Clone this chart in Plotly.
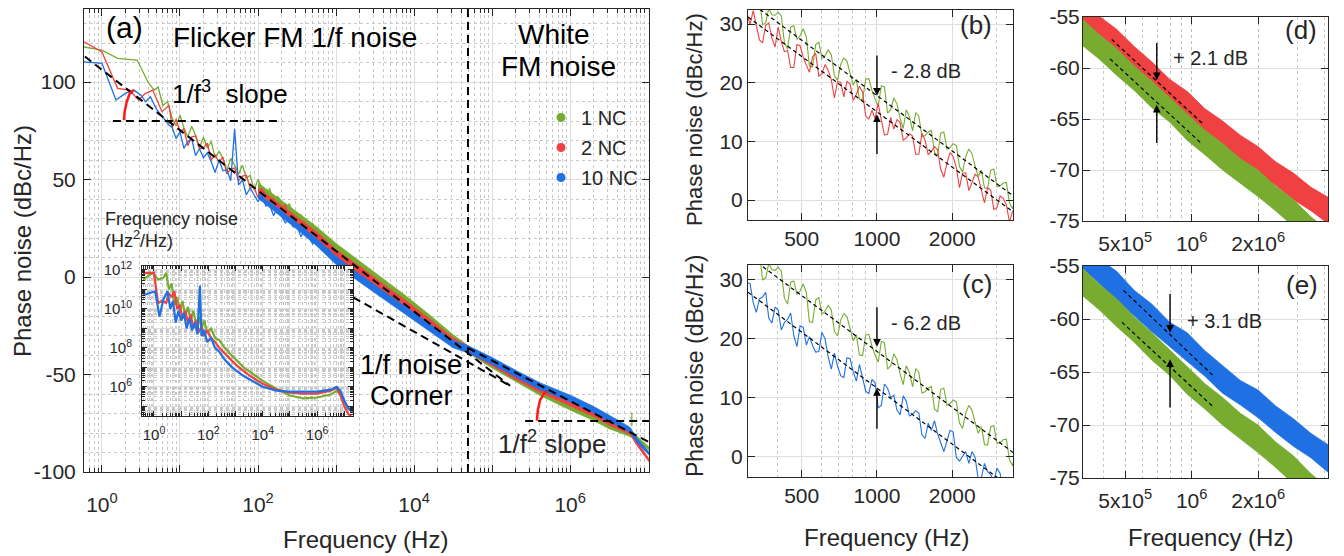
import numpy as np
import plotly.graph_objects as go

# the page adds an 8 px body margin, so the figure is laid out in screen pixels minus that offset
W, H, OFF = 1344, 556, 8
FW, FH = W - OFF, H - OFF
FONT = "Liberation Sans"
INK = "#262626"
GREEN, RED, BLUE = "#77AC30", "#EF4141", "#1F70E3"
ARC = "#FF1A1A"
GRID, MINOR = "#dedede", "#c8c8c8"

# ---------------- (a) main panel: log10(f) / phase noise (dBc/Hz) ----------------
A_GREEN_LOW_LF = [-0.23, 0.0, 0.2, 0.45, 0.6, 0.67, 0.72, 0.78, 0.84]
A_GREEN_LOW_DB = [118.0, 116.4, 112.2, 111.3, 99.3, 95.9, 97.5, 88.0, 90.0]
A_RED_LOW_LF = [-0.23, 0.0, 0.2, 0.35, 0.47, 0.55, 0.65, 0.71, 0.77, 0.86]
A_RED_LOW_DB = [120.7, 115.5, 96.8, 95.9, 90.8, 94.0, 95.9, 90.0, 84.8, 88.2]
A_BLUE_LOW_LF = [-0.23, 0.0, 0.18, 0.30, 0.41, 0.50, 0.56, 0.62, 0.70, 0.79, 0.86]
A_BLUE_LOW_DB = [110.4, 109.6, 90.8, 94.2, 95.9, 93.3, 89.9, 92.5, 86.0, 81.4, 78.0]

A_MID_LF = [0.90, 0.95, 1.00, 1.05, 1.10, 1.15, 1.20, 1.25, 1.30, 1.35, 1.40, 1.45, 1.50, 1.55,
            1.60, 1.65, 1.70, 1.75, 1.80, 1.85, 1.90, 1.95, 2.00, 2.05, 2.10, 2.15, 2.20, 2.25,
            2.30, 2.35, 2.40, 2.45, 2.50, 2.55, 2.60, 2.65, 2.70, 2.75, 2.80, 2.85, 2.90, 2.95,
            3.00, 3.05]
A_GREEN_MID_DB = [81.5, 77.5, 83.0, 76.5, 71.9, 77.4, 72.8, 66.3, 71.7, 66.2, 69.6, 61.1, 64.5, 61.0,
                  54.5, 60.9, 57.4, 52.8, 57.3, 50.7, 52.2, 44.6, 50.1, 45.6, 42.0, 45.5, 37.9, 41.4,
                  38.8, 34.3, 37.7, 32.2, 28.6, 32.1, 28.6, 25.0, 27.5, 22.9, 23.4, 18.8, 20.3, 16.7,
                  16.2, 14.7]
A_RED_MID_DB = [76.6, 81.0, 74.5, 76.0, 67.4, 71.9, 72.3, 65.8, 66.2, 68.7, 60.1, 62.6, 59.0, 61.5,
                53.0, 55.4, 55.9, 49.3, 51.8, 52.2, 45.7, 46.1, 40.6, 45.1, 42.5, 37.0, 40.4, 35.9,
                35.3, 36.8, 30.2, 31.7, 25.1, 28.6, 28.1, 22.5, 23.0, 22.4, 16.9, 19.3, 16.8, 13.2,
                12.5, 11.2]
A_BLUE_MID_DB = [76.6, 71.0, 74.5, 66.0, 69.4, 70.9, 62.3, 65.8, 61.2, 63.7, 59.1, 53.6, 60.0, 54.5,
                 55.0, 49.4, 76.0, 47.3, 49.8, 42.2, 45.7, 42.1, 38.6, 42.1, 36.5, 37.0, 31.4, 35.9,
                 31.3, 27.8, 30.2, 25.7, 26.1, 20.6, 25.1, 20.5, 17.0, 19.4, 15.9, 13.3, 14.8, 9.2,
                 10.7, 8.2]

A_BAND_LF = [2.0, 2.25, 2.5, 2.75, 3.0, 3.3, 3.6, 3.9, 4.2, 4.5, 4.69, 5.0, 5.3, 5.615, 6.0, 6.3, 6.5,
             6.7, 6.77, 6.85, 6.95, 7.01]
A_GREEN_TOP = [48.3, 40.8, 33.2, 25.8, 17.2, 8.2, -0.8, -9.8, -19.5, -29.6, -35.2, -43.3, -50.3, -57.3,
               -64.8, -70.4, -74.6, -78.0, -79.2, -81.4, -85.1, -87.2]
A_GREEN_BOT = [45.9, 38.0, 30.0, 22.0, 12.8, 3.8, -5.2, -14.2, -23.5, -33.4, -38.8, -46.7, -53.7, -60.7,
               -68.2, -73.6, -77.8, -81.0, -81.8, -83.6, -86.9, -88.8]
A_RED_TOP = [45.8, 38.3, 30.7, 23.2, 14.0, 5.5, -3.5, -12.3, -21.6, -31.2, -35.3, -42.4, -49.4, -55.9,
             -62.9, -68.5, -73.0, -76.6, -78.2, -83.9, -90.1, -93.2]
A_RED_BOT = [43.4, 35.5, 27.5, 19.6, 10.0, 1.5, -7.5, -16.3, -25.4, -34.8, -38.7, -45.6, -52.6, -59.1,
             -66.1, -71.5, -76.0, -79.4, -80.8, -86.1, -91.9, -94.8]
A_BLUE_TOP = [42.8, 35.3, 27.7, 19.7, 10.5, 1.5, -7.0, -15.3, -24.1, -32.7, -35.2, -41.3, -47.8, -54.3,
              -60.6, -66.4, -70.9, -75.5, -77.2, -82.4, -87.1, -89.7]
A_BLUE_BOT = [40.4, 32.5, 24.5, 16.1, 6.5, -2.5, -11.0, -19.3, -27.9, -36.3, -38.8, -44.7, -51.2, -57.7,
              -64.0, -69.6, -74.1, -78.5, -79.8, -84.6, -88.9, -91.3]
A_GREEN_SPIKE_F = [6.17e6, 6.17e6]
A_GREEN_SPIKE_DB = [-69.5, -76.5]

# guide lines in (a)
FIT3_F, FIT3_DB = [0.605, 1.7e5], [113.1, -55.8]
FITB_F, FITB_DB = [1660, 1.7e5], [-10.4, -55.8]
FIT2_F, FIT2_DB = [4.9e4, 1.02e7], [-36.4, -84.6]
HOR1_F, HOR1_DB = [1.38, 204], [80, 80]
HOR2_F, HOR2_DB = [2.65e5, 1.02e7], [-73.8, -73.8]
CORNER_F, CORNER_DB = [4.9e4, 4.9e4], [-100, 137.5]
ARC1_LF, ARC1_DB = [0.282, 0.291, 0.317, 0.359, 0.410], [80.5, 84.8, 89.9, 94.4, 95.9]
ARC2_LF, ARC2_DB = [5.573, 5.586, 5.615, 5.667, 5.701], [-73.7, -68.2, -63.1, -59.6, -58.5]

# ---------------- inset: log10(f) / log10(S_nu) ----------------
IN_GREEN_LF = [-0.40, -0.05, 0.15, 0.35, 0.45, 0.55, 0.65, 0.75, 0.85, 0.95, 1.05, 1.15, 1.25, 1.35, 1.45,
               1.55, 1.65, 1.75, 1.85, 1.95, 2.1, 2.25, 2.4, 2.6, 2.8, 3.0, 3.3, 3.6, 4.0, 4.5, 5.0,
               5.5, 6.0, 6.5, 6.72, 6.85, 7.0, 7.15, 7.3]
IN_GREEN_LS = [11.5, 11.85, 11.5, 11.6, 11.85, 11.0, 11.3, 10.2, 10.6, 9.9, 10.4, 9.6, 10.1, 9.4, 9.9,
               9.2, 9.6, 9.0, 9.4, 8.8, 9.0, 8.5, 8.4, 8.0, 7.7, 7.4, 7.0, 6.7, 6.3, 5.9, 5.55,
               5.4, 5.45, 5.6, 5.8, 5.6, 5.2, 4.9, 4.7]
IN_RED_LF = [-0.40, 0.0, 0.15, 0.3, 0.45, 0.55, 0.65, 0.75, 0.85, 0.95, 1.05, 1.15, 1.25, 1.35, 1.45,
             1.55, 1.65, 1.75, 1.85, 1.95, 2.1, 2.25, 2.4, 2.6, 2.8, 3.0, 3.3, 3.6, 4.0, 4.5, 5.0,
             5.5, 6.0, 6.5, 6.72, 6.85, 7.0, 7.15, 7.3]
IN_RED_LS = [11.85, 11.85, 10.3, 10.4, 10.3, 10.8, 10.6, 10.9, 10.0, 10.2, 9.5, 9.9, 9.3, 9.7, 9.0,
             9.4, 8.8, 9.1, 8.6, 8.9, 8.5, 8.3, 8.0, 7.7, 7.4, 7.15, 6.8, 6.5, 6.15, 5.85, 5.7,
             5.65, 5.65, 5.8, 5.95, 5.6, 5.0, 4.6, 4.4]
IN_BLUE_LF = [-0.40, 0.05, 0.2, 0.35, 0.5, 0.6, 0.7, 0.8, 0.9, 1.0, 1.1, 1.2, 1.3, 1.4, 1.5,
              1.6, 1.69, 1.75, 1.85, 1.95, 2.1, 2.25, 2.4, 2.6, 2.8, 3.0, 3.3, 3.6, 4.0, 4.5, 5.0,
              5.5, 6.0, 6.5, 6.72, 6.85, 7.0, 7.15, 7.3]
IN_BLUE_LS = [10.7, 10.9, 9.6, 10.5, 10.9, 10.0, 10.4, 9.3, 9.9, 9.4, 9.8, 9.0, 9.5, 8.9, 9.3,
              8.7, 11.2, 8.6, 8.9, 8.3, 8.5, 8.0, 7.8, 7.4, 7.1, 6.85, 6.55, 6.3, 6.0, 5.8, 5.75,
              5.75, 5.75, 5.85, 6.0, 5.8, 5.3, 4.9, 4.7]

# ---------------- (b), (c): log10(f) / dBc/Hz ----------------
BC_LF = [2.4800, 2.4925, 2.5050, 2.5175, 2.5300, 2.5425, 2.5550, 2.5675, 2.5800, 2.5925,
         2.6050, 2.6175, 2.6300, 2.6425, 2.6550, 2.6675, 2.6800, 2.6925, 2.7050, 2.7175,
         2.7300, 2.7425, 2.7550, 2.7675, 2.7800, 2.7925, 2.8050, 2.8175, 2.8300, 2.8425,
         2.8550, 2.8675, 2.8800, 2.8925, 2.9050, 2.9175, 2.9300, 2.9425, 2.9550, 2.9675,
         2.9800, 2.9925, 3.0050, 3.0175, 3.0300, 3.0425, 3.0550, 3.0675, 3.0800, 3.0925,
         3.1050, 3.1175, 3.1300, 3.1425, 3.1550, 3.1675, 3.1800, 3.1925, 3.2050, 3.2175,
         3.2300, 3.2425, 3.2550, 3.2675, 3.2800, 3.2925, 3.3050, 3.3175, 3.3300, 3.3425,
         3.3550, 3.3675, 3.3800, 3.3925, 3.4050, 3.4175, 3.4300, 3.4425, 3.4550, 3.4675,
         3.4800, 3.4925, 3.5050, 3.5175, 3.5300, 3.5425, 3.5550]
BC_GREEN = [35.3, 33.6, 32.5, 35.0, 34.5, 29.9, 30.2, 32.7, 31.6, 31.5,
            32.0, 31.4, 26.8, 25.8, 29.5, 29.7, 27.4, 28.0, 29.2, 27.8,
            22.8, 22.7, 26.5, 26.9, 24.1, 24.6, 25.6, 24.8, 21.2, 20.4,
            23.1, 24.2, 23.7, 21.4, 19.6, 20.6, 17.2, 17.1, 20.6, 20.7,
            18.7, 17.2, 16.0, 19.5, 19.3, 14.8, 15.4, 17.4, 16.4, 14.0,
            12.2, 15.4, 14.2, 11.8, 14.9, 14.3, 10.8, 11.0, 11.6, 11.9,
            8.1, 7.6, 11.4, 11.6, 8.7, 9.0, 9.6, 9.3, 5.7, 4.8,
            7.4, 8.7, 7.9, 5.8, 4.0, 5.1, 2.1, 2.0, 5.1, 5.3,
            2.3, 2.4, 2.9, 3.0, -0.5, -1.5, 0.8]
B_RED = [31.8, 29.9, 32.3, 29.5, 27.3, 26.8, 29.8, 30.2, 27.6, 26.1,
         29.5, 27.0, 25.3, 25.5, 22.6, 22.6, 26.5, 26.3, 24.4, 23.0,
         21.8, 24.4, 25.0, 21.1, 21.5, 23.1, 22.1, 20.5, 17.4, 20.2,
         20.1, 17.6, 20.2, 19.8, 17.0, 18.0, 19.4, 18.4, 14.3, 13.8,
         15.3, 13.9, 16.5, 13.6, 11.1, 11.2, 14.1, 12.1, 13.7, 13.2,
         10.2, 10.6, 11.3, 10.9, 7.8, 7.8, 11.4, 10.2, 7.7, 8.3,
         9.1, 8.6, 5.2, 3.9, 6.3, 8.1, 7.4, 5.5, 2.1, 4.6,
         4.6, 1.6, 2.9, 4.4, 3.9, 1.8, -0.5, 2.1, 1.7, -1.6,
         -1.3, 0.7, 0.3, -0.8, -3.8, -1.9, -1.9]
C_BLUE = [29.4, 29.3, 26.1, 24.4, 26.7, 27.0, 27.8, 23.4, 22.6, 25.3,
          24.8, 21.4, 22.7, 23.2, 24.3, 20.5, 18.6, 22.1, 21.9, 18.9,
          20.3, 18.8, 17.7, 17.8, 21.0, 19.9, 16.9, 14.8, 17.5, 15.3,
          13.7, 13.4, 16.7, 16.6, 14.4, 12.8, 15.6, 13.2, 11.1, 10.7,
          13.1, 12.5, 8.3, 8.7, 12.3, 11.6, 10.0, 10.4, 7.9, 7.1,
          10.3, 9.4, 6.9, 7.2, 7.8, 7.4, 3.7, 3.1, 5.7, 4.5,
          6.1, 3.9, 2.2, 0.9, 2.7, 4.5, 4.2, -0.1, -0.7, 0.1,
          0.9, -1.1, 0.9, -0.1, -3.8, -3.5, -1.1, -2.5, -3.0, -4.1,
          -1.9, -2.8, -6.0, -6.2, -4.4, -5.6, -6.9]
B_FIT_GREEN_F, B_FIT_GREEN_DB = [340, 3500], [32.5, 0.75]
B_FIT_RED_F, B_FIT_RED_DB = [305, 3500], [31.2, -2.0]
C_FIT_GREEN_F, C_FIT_GREEN_DB = [350, 3500], [32.1, 0.75]
C_FIT_BLUE_F, C_FIT_BLUE_DB = [305, 3050], [27.8, -3.6]

# ---------------- (d), (e): log10(f) / dBc/Hz bands ----------------
DE_LF = [5.50, 5.58, 5.66, 5.74, 5.82, 5.90, 5.98, 6.06, 6.14, 6.22, 6.30, 6.38, 6.46, 6.54, 6.62]
DE_GREEN_TOP = [-55.1, -56.7, -58.1, -59.8, -61.3, -62.9, -64.5, -66.1, -67.4, -68.9, -70.0, -71.6, -72.9, -74.6, -76.0]
DE_GREEN_BOT = [-57.7, -59.1, -60.7, -62.2, -63.9, -65.3, -67.1, -68.5, -70.0, -71.3, -72.6, -74.0, -75.5, -77.0, -78.6]
D_RED_TOP = [-53.2, -54.9, -56.2, -57.9, -59.4, -61.1, -62.3, -64.0, -65.2, -66.6, -67.7, -69.2, -70.3, -71.7, -72.7]
D_RED_BOT = [-55.8, -57.2, -58.8, -60.3, -62.0, -63.4, -64.9, -66.3, -67.8, -68.9, -70.3, -71.5, -72.9, -74.0, -75.3]
E_BLUE_TOP = [-52.5, -54.3, -55.5, -57.3, -58.6, -60.3, -61.3, -63.0, -64.4, -65.8, -66.7, -68.2, -69.4, -70.8, -71.9]
E_BLUE_BOT = [-55.1, -56.6, -58.2, -59.7, -61.2, -62.6, -64.0, -65.4, -67.0, -68.1, -69.3, -70.7, -72.0, -73.1, -74.5]
D_FIT_RED_LF, D_FIT_RED_DB = [5.638, 6.052], [-57.2, -65.5]
D_FIT_GREEN_LF, D_FIT_GREEN_DB = [5.630, 6.044], [-59.1, -67.4]
E_FIT_BLUE_LF, E_FIT_BLUE_DB = [5.691, 6.105], [-57.3, -65.5]
E_FIT_GREEN_LF, E_FIT_GREEN_DB = [5.684, 6.098], [-60.3, -68.3]

# arrows: frequency, (tail, head) for the down arrow and the up arrow
B_ARROW = (1000, (24.9, 17.8), (7.6, 14.6))
C_ARROW = (1000, (25.5, 18.6), (4.5, 11.6))
D_ARROW = (6.95e5, (-57.4, -61.2), (-67.5, -63.6))
E_ARROW = (7.98e5, (-57.5, -61.3), (-68.5, -63.8))

SERIES = ["1 NC", "2 NC", "10 NC"]


def lf(v):
    return 10 ** np.asarray(v, dtype=float)


def fx(p):
    return (p - OFF) / FW


def fy(p):
    return 1 - (p - OFF) / FH


fig = go.Figure()


def line(x, y, color, width, xa, ya, dash=None):
    fig.add_trace(go.Scatter(x=x, y=y, mode="lines", xaxis=xa, yaxis=ya, showlegend=False,
                             hoverinfo="skip", line=dict(color=color, width=width, dash=dash)))


def band(x, top, bot, color, xa, ya):
    line(x, top, color, 0.8, xa, ya)
    fig.add_trace(go.Scatter(x=x, y=bot, mode="lines", xaxis=xa, yaxis=ya, showlegend=False,
                             hoverinfo="skip", line=dict(color=color, width=0.8),
                             fill="tonexty", fillcolor=color))


# (a)
for low_lf, low_db, mid_db, top, bot, c in [
        (A_GREEN_LOW_LF, A_GREEN_LOW_DB, A_GREEN_MID_DB, A_GREEN_TOP, A_GREEN_BOT, GREEN),
        (A_RED_LOW_LF, A_RED_LOW_DB, A_RED_MID_DB, A_RED_TOP, A_RED_BOT, RED),
        (A_BLUE_LOW_LF, A_BLUE_LOW_DB, A_BLUE_MID_DB, A_BLUE_TOP, A_BLUE_BOT, BLUE)]:
    band(lf(A_BAND_LF), top, bot, c, "x", "y")
    line(lf(low_lf + A_MID_LF), low_db + mid_db, c, 1.3, "x", "y")
line(A_GREEN_SPIKE_F, A_GREEN_SPIKE_DB, GREEN, 1.2, "x", "y")

DASH = "8px,5px"
line(FIT3_F, FIT3_DB, "black", 2, "x", "y", DASH)
line(FITB_F, FITB_DB, "black", 2, "x", "y", DASH)
line(FIT2_F, FIT2_DB, "black", 2, "x", "y", DASH)
line(HOR1_F, HOR1_DB, "black", 2, "x", "y", DASH)
line(HOR2_F, HOR2_DB, "black", 2, "x", "y", DASH)
line(CORNER_F, CORNER_DB, "black", 2, "x", "y", DASH)
line(lf(ARC1_LF), ARC1_DB, ARC, 2.5, "x", "y")
line(lf(ARC2_LF), ARC2_DB, ARC, 2.5, "x", "y")

for i, (name, c) in enumerate(zip(SERIES, [GREEN, RED, BLUE])):
    fig.add_trace(go.Scatter(x=[None], y=[None], mode="markers", name=name, legendgroup=f"g{i}",
                             marker=dict(color=c, size=9), xaxis="x", yaxis="y"))

# inset
for x, y, c in [(IN_GREEN_LF, IN_GREEN_LS, GREEN), (IN_RED_LF, IN_RED_LS, RED), (IN_BLUE_LF, IN_BLUE_LS, BLUE)]:
    line(lf(x), lf(y), c, 2.2, "x2", "y2")

# (b)
line(lf(BC_LF), BC_GREEN, GREEN, 1.1, "x3", "y3")
line(lf(BC_LF), B_RED, RED, 1.1, "x3", "y3")
line(B_FIT_GREEN_F, B_FIT_GREEN_DB, "black", 1.2, "x3", "y3", "4px,3px")
line(B_FIT_RED_F, B_FIT_RED_DB, "black", 1.2, "x3", "y3", "4px,3px")
# (c)
line(lf(BC_LF), BC_GREEN, GREEN, 1.1, "x4", "y4")
line(lf(BC_LF), C_BLUE, BLUE, 1.1, "x4", "y4")
line(C_FIT_GREEN_F, C_FIT_GREEN_DB, "black", 1.2, "x4", "y4", "4px,3px")
line(C_FIT_BLUE_F, C_FIT_BLUE_DB, "black", 1.2, "x4", "y4", "4px,3px")
# (d)
band(lf(DE_LF), D_RED_TOP, D_RED_BOT, RED, "x5", "y5")
band(lf(DE_LF), DE_GREEN_TOP, DE_GREEN_BOT, GREEN, "x5", "y5")
line(lf(D_FIT_RED_LF), D_FIT_RED_DB, "black", 1.2, "x5", "y5", "4px,3px")
line(lf(D_FIT_GREEN_LF), D_FIT_GREEN_DB, "black", 1.2, "x5", "y5", "4px,3px")
# (e)
band(lf(DE_LF), E_BLUE_TOP, E_BLUE_BOT, BLUE, "x6", "y6")
band(lf(DE_LF), DE_GREEN_TOP, DE_GREEN_BOT, GREEN, "x6", "y6")
line(lf(E_FIT_BLUE_LF), E_FIT_BLUE_DB, "black", 1.2, "x6", "y6", "4px,3px")
line(lf(E_FIT_GREEN_LF), E_FIT_GREEN_DB, "black", 1.2, "x6", "y6", "4px,3px")


def ax(**kw):
    base = dict(showline=True, linecolor=INK, linewidth=1, mirror="ticks", ticks="inside",
                tickcolor=INK, ticklen=7, tickwidth=1, showgrid=True, gridcolor=GRID, zeroline=False,
                tickfont=dict(family=FONT, size=21, color=INK), tickmode="array", fixedrange=True,
                automargin=False, ticklabeloverflow="allow")
    base.update(kw)
    return base


def sup(m, e):
    return f"{m}10<sup>{e}</sup>"


dec = [10.0 ** k for k in range(-1, 9)]
minor_all = [m * 10.0 ** k for k in range(-1, 13) for m in range(2, 10)]

main_x = ax(type="log", range=[-0.23, 7.01], domain=[fx(84), fx(649)], anchor="y",
            tickvals=dec, ticktext=["", sup("", 0), "", sup("", 2), "", sup("", 4), "", sup("", 6), "", ""],
            ticklabelstandoff=14,
            minor=dict(tickmode="array", tickvals=minor_all, ticks="inside", ticklen=4, tickcolor=INK,
                       showgrid=True, gridcolor=MINOR, griddash="dot"))
main_y = ax(range=[-100, 137.5], domain=[fy(472), fy(9)], anchor="x",
            tickvals=[-100, -50, 0, 50, 100], ticktext=["-100", "-50", "0", "50", "100"],
            ticklabelstandoff=3,
            minor=dict(tickmode="linear", tick0=0, dtick=10, showgrid=True, gridcolor=MINOR, griddash="dot"))

inset_x = ax(type="log", range=[-0.44, 7.32], domain=[fx(142), fx(353)], anchor="y2",
             tickvals=dec, ticktext=["", sup("", 0), "", sup("", 2), "", sup("", 4), "", sup("", 6), "", ""],
             ticklen=5, tickfont=dict(family=FONT, size=15, color=INK), ticklabelstandoff=5,
             minor=dict(tickmode="array", tickvals=minor_all, ticks="inside", ticklen=3, tickcolor=INK,
                        showgrid=True, gridcolor=MINOR, griddash="dot"))
inset_y = ax(type="log", range=[4.5, 12.2], domain=[fy(416), fy(266)], anchor="x2",
             tickvals=[10.0 ** k for k in range(4, 13)],
             ticktext=["", "", sup("", 6), "", sup("", 8), "", sup("", 10), "", sup("", 12)],
             ticklen=5, tickfont=dict(family=FONT, size=15, color=INK), ticklabelstandoff=6,
             minor=dict(tickmode="array", tickvals=minor_all, ticks="inside", ticklen=3, tickcolor=INK,
                        showgrid=True, gridcolor=MINOR, griddash="dot"))

bc_minor = dict(tickmode="array", tickvals=[400, 600, 700, 800, 900, 3000], ticks="",
                showgrid=True, gridcolor=MINOR, griddash="dot")
de_minor = dict(tickmode="array", tickvals=[4e5, 6e5, 7e5, 8e5, 9e5, 3e6, 4e6], ticks="",
                showgrid=True, gridcolor=MINOR, griddash="dot")


def bc_x(anchor, dom):
    return ax(type="log", range=[np.log10(305), np.log10(3500)], domain=dom, anchor=anchor,
              tickvals=[500, 1000, 2000], ticktext=["500", "1000", "2000"], ticklabelstandoff=0,
              minor=bc_minor)


def bc_y(anchor, dom):
    return ax(range=[-3.4, 32.4], domain=dom, anchor=anchor, tickvals=[0, 10, 20, 30],
              ticktext=["0", "10", "20", "30"], ticklabelstandoff=0)


def de_x(anchor, dom):
    return ax(type="log", range=[5.508, 6.617], domain=dom, anchor=anchor,
              tickvals=[5e5, 1e6, 2e6], ticktext=[sup("5x", 5), sup("", 6), sup("2x", 6)],
              gridcolor="#bdbdbd", griddash="dot", ticklabelstandoff=4, minor=de_minor)


def de_y(anchor, dom):
    return ax(range=[-75, -55], domain=dom, anchor=anchor, tickvals=[-75, -70, -65, -60, -55],
              ticktext=["-75", "-70", "-65", "-60", "-55"], ticklabelstandoff=-2)


BC_DOM = [fx(748), fx(1013)]
DE_DOM = [fx(1083), fx(1328)]
B_DOM = [fy(220), fy(10)]
C_DOM = [fy(477), fy(265)]
D_DOM = [fy(221), fy(17)]
E_DOM = [fy(478), fy(266)]

fig.update_layout(
    width=FW, height=FH, margin=dict(l=0, r=0, t=0, b=0, autoexpand=False),
    paper_bgcolor="white", plot_bgcolor="white",
    font=dict(family=FONT, color=INK),
    xaxis=main_x, yaxis=main_y, xaxis2=inset_x, yaxis2=inset_y,
    xaxis3=bc_x("y3", BC_DOM), yaxis3=bc_y("x3", B_DOM),
    xaxis4=bc_x("y4", BC_DOM), yaxis4=bc_y("x4", C_DOM),
    xaxis5=de_x("y5", DE_DOM), yaxis5=de_y("x5", D_DOM),
    xaxis6=de_x("y6", DE_DOM), yaxis6=de_y("x6", E_DOM),
    showlegend=True,
    legend=dict(x=fx(541), y=fy(98), xanchor="left", yanchor="top", bgcolor="rgba(0,0,0,0)",
                font=dict(family=FONT, size=20, color=INK), tracegroupgap=1, itemwidth=30),
    shapes=[dict(type="rect", xref="x2", yref="y2", layer="below", x0=10 ** -0.44, x1=10 ** 7.32,
                 y0=10 ** 4.5, y1=10 ** 12.2, fillcolor="white", line=dict(width=0))],
)

ann = []


def text(t, px, py, size, xanchor="center", angle=0, color="black"):
    ann.append(dict(text=t, x=fx(px), y=fy(py), xref="paper", yref="paper", showarrow=False,
                    xanchor=xanchor, yanchor="middle", textangle=angle,
                    font=dict(family=FONT, size=size, color=color)))


text("(a)", 124, 28, 30)
text("Flicker FM 1/f noise", 295, 38, 28)
text("1/f<sup>3</sup>  slope", 230, 92, 26)
text("White", 554, 35, 28)
text("FM noise", 558, 66, 28)
text("Frequency noise", 103, 219, 18, "left", color=INK)
text("(Hz<sup>2</sup>/Hz)", 103, 240, 18, "left", color=INK)
text("1/f noise", 411, 365, 27)
text("Corner", 411, 396, 27)
text("1/f<sup>2</sup> slope", 552, 443, 26, color=INK)
text("(b)", 976, 25, 26, color=INK)
text("(c)", 977, 284, 26, color=INK)
text("(d)", 1301, 30, 26, color=INK)
text("(e)", 1302, 285, 26, color=INK)
text("Phase noise (dBc/Hz)", 22, 241, 24, angle=-90, color=INK)
text("Phase noise (dBc/Hz)", 695, 120, 22, angle=-90, color=INK)
text("Phase noise (dBc/Hz)", 695, 366, 23, angle=-90, color=INK)
text("Frequency (Hz)", 365, 539, 24, color=INK)
text("Frequency (Hz)", 886, 537, 24, color=INK)
text("Frequency (Hz)", 1210, 537, 24, color=INK)

for (f, down, up), xa, ya, label, lab_f, lab_db in [
        (B_ARROW, "x3", "y3", "- 2.8 dB", 1120, 22.0),
        (C_ARROW, "x4", "y4", "- 6.2 dB", 1115, 22.6),
        (D_ARROW, "x5", "y5", "+ 2.1 dB", 8.1e5, -59.0),
        (E_ARROW, "x6", "y6", "+ 3.1 dB", 9.3e5, -60.2)]:
    for tail, head in (down, up):
        ann.append(dict(x=np.log10(f), y=head, ax=np.log10(f), ay=tail, xref=xa, yref=ya, axref=xa,
                        ayref=ya, text="", showarrow=True, arrowhead=2, arrowsize=1.1, arrowwidth=1.4,
                        arrowcolor="black", standoff=0))
    ann.append(dict(x=np.log10(lab_f), y=lab_db, xref=xa, yref=ya, text=label, showarrow=False,
                    xanchor="left", yanchor="middle", font=dict(family=FONT, size=20, color=INK)))

fig.update_layout(annotations=ann)

fig.write_html("out.html")
